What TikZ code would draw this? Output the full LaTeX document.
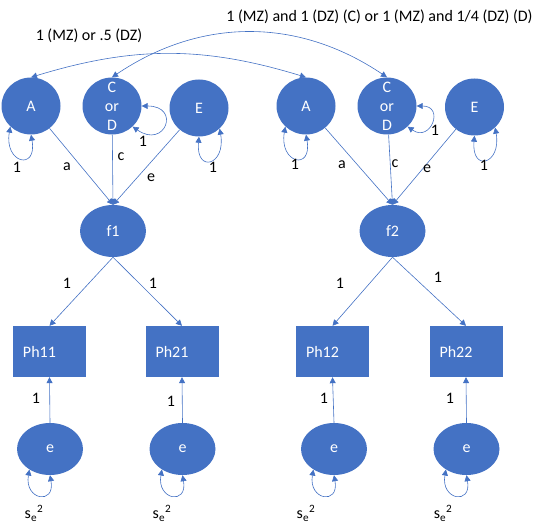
\documentclass[tikz,border=0pt]{standalone}
\usepackage{fontspec}
\setmainfont{Carlito}
\usepackage{xcolor}
\usepackage{tikz}
\usetikzlibrary{arrows.meta,shapes.geometric,positioning}
\definecolor{ofblue}{HTML}{4472C4}

\begin{document}
\begin{tikzpicture}[x=1pt,y=1pt,
		font=\fontsize{16}{19}\selectfont,
		latent/.style={ellipse, fill=ofblue, text=white, inner sep=0pt, minimum width=59pt, minimum height=57pt},
		factor/.style={ellipse, fill=ofblue, text=white, inner sep=0pt, minimum width=66pt, minimum height=52pt},
		obs/.style={rectangle, fill=ofblue, text=white, minimum height=51pt, text width=53pt, inner xsep=10pt, inner ysep=0pt, align=left},
		arr/.style={draw=ofblue, line width=0.6pt, -{Triangle[width=6pt,length=6pt]}},
		cov/.style={draw=ofblue, line width=0.6pt, {Triangle[width=6pt,length=6pt]}-{Triangle[width=6pt,length=6pt]}},
		lbl/.style={inner sep=0pt, text=black}]
		\useasboundingbox (0,0) rectangle (544,-532);

		% twin 1
		\node[latent] (A1) at (31,-106) {A};
		\node[latent] (C1) at (112,-106) {};
		\node[lbl, text=white, align=center] (C1t) at (C1) {C\\or\\D};
		\node[latent] (E1) at (199,-108) {E};
		\node[factor] (f1) at (113,-231) {f1};
		\node[obs] (P11) at (49.5,-351.5) {Ph11};
		\node[obs] (P21) at (182,-351.5) {Ph21};
		\node[factor] (e11) at (50,-449) {e};
		\node[factor] (e21) at (182.5,-449) {e};

		% twin 2
		\node[latent] (A2) at (306,-106) {A};
		\node[latent] (C2) at (387,-106) {};
		\node[lbl, text=white, align=center] (C2t) at (C2) {C\\or\\D};
		\node[latent] (E2) at (474.5,-107) {E};
		\node[factor] (f2) at (392.5,-231) {f2};
		\node[obs] (P12) at (332.5,-351.5) {Ph12};
		\node[obs] (P22) at (466,-351.5) {Ph22};
		\node[factor] (e12) at (334,-449) {e};
		\node[factor] (e22) at (466.5,-449) {e};

		\draw[arr] (A1) -- (f1.north);
		\draw[arr] (C1) -- (f1.north);
		\draw[arr] (E1) -- (f1.north);
		\draw[arr] (f1.south) -- (P11.north);
		\draw[arr] (f1.south) -- (P21.north);
		\draw[arr] (e11.north) -- (P11.south);
		\draw[arr] (e21.north) -- (P21.south);

		\draw[arr] (A2) -- (f2.north);
		\draw[arr] (C2) -- (f2.north);
		\draw[arr] (E2) -- (f2.north);
		\draw[arr] (f2.south) -- (P12.north);
		\draw[arr] (f2.south) -- (P22.north);
		\draw[arr] (e12.north) -- (P12.south);
		\draw[arr] (e22.north) -- (P22.south);

		% variances
		\draw[cov] (A1.225) to[out=-100,in=-80,looseness=4.3] (A1.270);
		\draw[cov] (E1.270) to[out=-95,in=-80,looseness=4.3] (E1.315);
		\draw[cov] (C1.east) to[out=0,in=-35,looseness=4.5] (C1.315);
		\draw[cov] (A2.225) to[out=-100,in=-80,looseness=4.3] (A2.270);
		\draw[cov] (E2.270) to[out=-95,in=-80,looseness=4.3] (E2.315);
		\draw[cov] (C2.east) to[out=0,in=-35,looseness=3.2] (C2.315);
		\foreach \e in {e11,e21,e12,e22}
			\draw[cov] (\e.225) to[out=-100,in=-80,looseness=3.7] (\e.270);

		% twin covariances
		\draw[cov] (A1.north) to[bend left=17] (A2.north);
		\draw[cov] (C1.north) to[bend left=34] (C2.north);
		\node[lbl] (covA) at (89,-36) {1 (MZ) or .5 (DZ)};
		\node[lbl] (covC) at (379.5,-17) {1 (MZ) and 1 (DZ) (C) or 1 (MZ) and 1/4 (DZ) (D)};

		\node[lbl] (la1) at (67,-167) {a};
		\node[lbl] (lc1) at (121,-157) {c};
		\node[lbl] (le1) at (151,-178) {e};
		\node[lbl] (la2) at (342,-165) {a};
		\node[lbl] (lc2) at (395,-164) {c};
		\node[lbl] (le2) at (427,-169) {e};

		\foreach \n/\x/\y in {vA1/17/167, vE1/213/167, vC1/143/141, vA2/295/164, vE2/484/165, vC2/435/130,
				l11/67/283, l21/153/283, l12/340/283, l22/438/277,
				r11/36/398, r21/171/401, r12/324/398, r22/450/398}
			\node[lbl] (\n) at (\x,-\y) {1};

		\foreach \n/\x in {s11/34, s21/162, s12/306, s22/443}
			\node[lbl] (\n) at (\x,-513) {s\textsubscript{e}\textsuperscript{2}};
	\end{tikzpicture}
\end{document}
